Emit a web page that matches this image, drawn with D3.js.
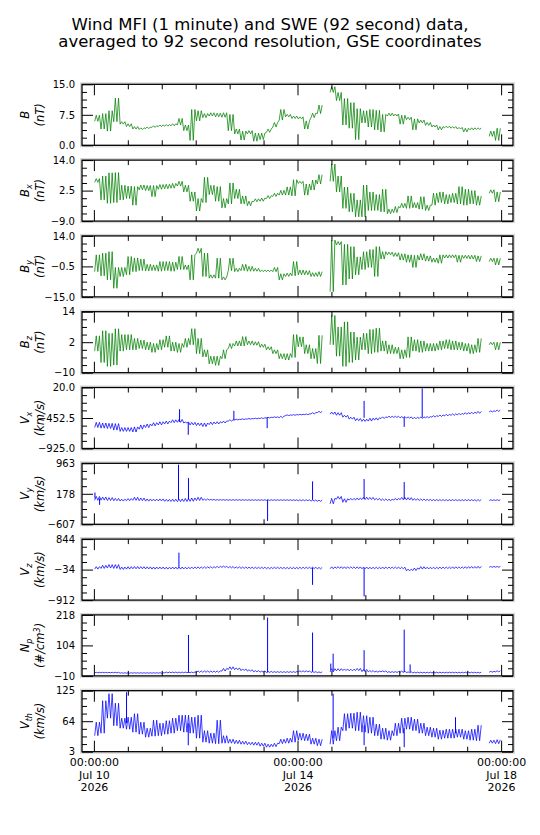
<!DOCTYPE html>
<html>
<head>
<meta charset="utf-8">
<script src="https://cdn.jsdelivr.net/npm/d3@7"></script>
<style>
  body { margin: 0; background: #fff; }
  text { font-family: "DejaVu Sans", sans-serif; }
</style>
</head>
<body>
<svg id="chart" width="540" height="835"></svg>
<script>
// 3-hour bins from Jul 10 00:00 UTC; each entry is [low, high], null = data gap
const binHours = d3.range(0, 192, 3);

const bMag = [[5.9,7.4],[4.0,7.8],[3.5,8.5],[5.8,11.6],[5.2,5.8],[4.6,5.3],[4.0,4.6],[3.9,4.3],[4.1,4.5],[4.4,4.8],[4.6,5.0],[4.7,5.1],[4.8,5.3],[5.0,6.6],[3.6,5.0],[1.2,8.8],[6.0,8.5],[6.8,7.8],[7.2,8.0],[7.0,7.9],[6.9,8.0],[3.6,7.6],[2.8,4.0],[1.3,3.5],[2.8,3.6],[1.0,3.0],[1.4,3.0],[3.2,4.0],[4.5,5.6],[6.2,8.8],[7.0,7.6],[6.6,7.2],[6.5,7.0],[4.0,6.0],[6.8,7.9],[7.8,9.9],null,[13.0,14.4],[11.0,13.0],[5.0,11.5],[4.2,10.5],[1.4,9.0],[5.5,8.5],[4.5,8.8],[3.8,8.6],[3.3,7.6],[7.2,7.9],[7.2,7.7],[5.2,7.4],[6.3,6.9],[3.8,6.5],[5.5,6.2],[4.9,5.6],[4.5,5.0],[3.8,4.6],[4.3,4.7],[4.2,4.6],[4.0,4.4],[3.3,4.2],[3.8,4.3],[3.9,4.3],null,[2.2,3.5],[1.2,4.2]];

const bx = [[5.6,7.0],[-1.0,8.0],[-2.3,9.2],[-2.0,9.3],[-1.0,4.5],[-0.5,4.2],[-3.0,4.0],[2.8,4.6],[2.5,4.4],[0.2,4.4],[3.0,4.8],[3.2,4.9],[3.4,5.2],[4.2,6.0],[2.0,4.5],[-1.5,2.0],[-5.2,-0.5],[-2.0,7.5],[1.0,4.5],[-1.5,4.0],[-4.0,-0.5],[-2.5,5.4],[-0.5,3.0],[-2.5,0.5],[-3.2,-1.5],[-1.7,-0.6],[-1.5,-0.3],[-0.5,0.6],[0.3,1.5],[0.8,2.6],[0.8,3.9],[0.5,6.6],[5.2,6.0],[0.8,5.0],[2.7,6.5],[5.0,8.5],null,[6.0,12.5],[2.0,8.0],[-4.2,3.8],[-5.5,1.5],[-7.4,-1.0],[-7.4,4.6],[-5.0,2.0],[-5.0,1.0],[-5.5,3.0],[-6.2,-4.5],[-5.8,-3.5],[-4.0,-2.3],[-4.2,0.5],[-4.0,-2.0],[-4.5,0.2],[-5.0,-3.0],[-3.0,1.5],[-2.0,2.0],[-2.5,1.0],[-2.0,1.5],[-2.5,4.0],[-3.0,3.0],[-2.5,2.5],[-3.0,0.5],null,[1.5,2.8],[-1.7,2.0]];

const by = [[-3.0,5.0],[-5.0,5.8],[-6.9,6.5],[-10.9,-1.0],[-5.3,-1.0],[-4.5,4.2],[-3.0,3.5],[-2.5,3.0],[-2.7,0.5],[-2.5,0.2],[-2.8,1.8],[-2.5,1.8],[-2.8,1.5],[-2.0,4.2],[-2.0,0.2],[-6.9,5.0],[5.8,8.1],[-5.3,5.8],[-6.1,-4.5],[-6.1,3.4],[-6.9,-5.5],[-2.5,3.4],[-3.0,-1.4],[-2.5,0.5],[-2.8,-0.5],[-2.8,-1.4],[-3.0,-2.2],[-3.0,-2.2],[-3.0,-1.0],[-6.9,-4.0],[-5.3,-3.7],[-5.0,1.8],[-4.5,-2.2],[-4.5,-2.5],[-5.3,-3.5],[-5.3,-3.0],null,[-12.5,12.0],[9.7,11.3],[-9.3,10.0],[-6.5,8.9],[-4.5,4.0],[-2.0,6.5],[-1.0,7.5],[-5.3,8.9],[3.0,6.5],[5.0,6.3],[4.2,6.0],[2.5,5.5],[1.5,5.0],[-1.0,4.8],[2.5,5.5],[2.0,4.5],[1.5,3.5],[1.0,5.0],[3.5,5.0],[3.6,5.0],[1.5,4.8],[3.3,4.8],[3.0,4.8],[1.8,4.5],null,[1.8,3.4],[0.2,3.4]];

const bz = [[-1.5,4.5],[-6.0,6.5],[-7.5,5.5],[-7.0,7.3],[-1.5,5.0],[-1.0,5.0],[-1.0,3.5],[-0.5,2.8],[-1.0,2.0],[-2.0,1.5],[-1.0,3.0],[0.0,4.5],[-1.5,2.0],[-2.0,1.5],[0.0,3.5],[1.0,7.3],[-2.5,3.5],[-3.8,-1.0],[-6.5,-3.5],[-7.1,-3.5],[-4.5,-1.0],[-0.5,1.5],[0.5,2.5],[0.5,4.2],[1.0,2.5],[0.8,2.2],[0.0,1.2],[-1.0,0.2],[-2.5,-1.0],[-4.5,-2.5],[-5.0,-2.5],[-4.0,5.0],[0.2,4.1],[-2.5,1.0],[-4.5,-0.5],[-6.4,4.7],null,[1.0,12.5],[-3.5,8.0],[-7.5,10.0],[-6.0,6.0],[-5.0,4.0],[-1.0,5.5],[-2.5,7.0],[-2.0,7.5],[-1.5,2.5],[-2.5,1.0],[-2.5,0.0],[-4.5,-1.0],[-4.0,4.1],[-1.5,3.0],[-2.0,2.5],[-1.5,1.5],[-1.5,1.5],[-1.0,2.5],[-0.5,3.0],[-1.0,2.5],[-1.0,2.0],[-1.5,1.5],[-2.5,1.0],[-2.0,3.5],null,[1.0,2.0],[-1.0,2.0]];

const vx = [[-600,-520],[-610,-530],[-615,-535],[-640,-540],[-660,-600],[-660,-600],[-670,-590],[-626,-560],[-600,-545],[-575,-525],[-560,-510],[-545,-500],[-525,-480],[-520,-475],[-530,-515],[-560,-520],[-570,-530],[-585,-530],[-555,-515],[-545,-510],[-530,-500],[-500,-480],[-482,-472],[-476,-466],[-470,-460],[-465,-455],[-460,-450],[-452,-442],[-445,-435],[-448,-425],[-415,-405],[-410,-400],[-405,-395],[-400,-390],[-390,-370],[-368,-350],null,[-395,-360],[-410,-370],[-440,-410],[-470,-440],[-495,-460],[-505,-470],[-500,-455],[-485,-450],[-460,-435],[-445,-425],[-445,-425],[-450,-430],[-455,-435],[-465,-440],[-460,-435],[-450,-430],[-440,-415],[-430,-405],[-420,-395],[-412,-388],[-405,-380],[-395,-370],[-388,-362],[-380,-350],null,[-358,-342],[-350,-330]];

const vy = [[10,110],[15,95],[5,80],[0,60],[-10,40],[0,55],[10,90],[0,70],[-10,45],[-5,40],[-5,45],[-15,35],[-20,40],[-25,45],[-20,60],[-15,70],[5,90],[10,45],[15,35],[12,30],[12,28],[10,28],[10,28],[10,26],[10,26],[8,26],[8,25],[8,25],[8,25],[8,25],[8,25],[5,24],[0,25],[0,25],[-10,20],[-15,15],null,[-80,60],[40,110],[-40,50],[15,60],[20,70],[30,90],[30,85],[20,60],[5,45],[5,35],[15,60],[25,85],[20,80],[10,55],[5,45],[5,35],[0,30],[0,30],[0,28],[0,30],[0,28],[0,30],[0,28],[-5,30],null,[5,25],[5,25]];

const vz = [[-20,50],[0,90],[10,110],[0,110],[-30,40],[-20,50],[-10,55],[-10,50],[-15,45],[-20,40],[-15,40],[-20,35],[-15,40],[-20,40],[-15,35],[-10,40],[-5,45],[0,45],[10,50],[20,60],[30,65],[15,55],[5,45],[0,40],[0,35],[-5,35],[-5,35],[-10,30],[-5,35],[-5,30],[-10,30],[-10,30],[-10,35],[-5,35],[-5,35],[-15,30],null,[-10,45],[0,50],[-5,45],[0,45],[-5,45],[-10,40],[-15,35],[-10,35],[-10,40],[-5,40],[-5,40],[-10,35],[-70,-20],[-60,10],[-20,50],[-15,35],[-10,35],[-10,40],[-5,40],[-5,45],[0,45],[0,50],[5,55],[5,60],null,[35,55],[35,55]];

const np = [[1.5,3.5],[1.5,3.5],[1.5,3.5],[1.5,3.5],[0,2],[0,2],[0,2],[0,2],[0,2],[0,2],[0,2],[1.5,4.5],[1.5,4.5],[1.5,4.5],[1.5,4.5],[1.5,4.5],[3.5,8.5],[3.5,8.5],[3.5,8.5],[3.5,8.5],[8,18],[14,24],[13,20],[10,16],[8,13],[5,10],[4,8],[3,7],[3,6],[3,6],[3,6],[3,6],[5,9],[5,9],[3,6],[2,5],null,[5,17],[9,17],[10,16],[9,15],[10,18],[6,14],[5,10],[4,8],[5,9],[3,6],[3,6],[3,8],[2,5],[1,4],[1,4],[1,4],[1,4],[1,4],[1,4],[1,4],[1,4],[1,4],[1,4],[1,4],null,[4,7],[5,9]];

const vth = [[35,62],[40,105],[70,119],[55,100],[50,70],[48,72],[42,79],[38,62],[32,50],[34,66],[35,60],[38,65],[40,70],[45,76],[42,76],[40,72],[30,76],[22,45],[20,40],[19,66],[20,35],[20,28],[19,26],[18,24],[17,22],[16,22],[14,20],[12,18],[13,20],[19,28],[20,30],[22,45],[26,40],[25,38],[18,30],[15,28],null,[18,45],[25,52],[45,79],[50,80],[45,82],[42,75],[40,72],[35,58],[28,50],[26,45],[35,60],[40,70],[48,72],[45,68],[40,60],[35,52],[32,50],[28,46],[30,48],[30,48],[32,48],[28,45],[26,48],[25,56],null,[20,26],[19,27]];

// isolated single-sample spikes: [hour, base, peak]
const vxSpikes = [[40.4,-512,-316],[44.5,-522,-713],[66.0,-486,-342],[81.7,-445,-610],[127.4,-450,-187],[146.3,-440,-590],[154.8,-445,5]];
const vySpikes = [[0.5,60,212],[2.7,60,-107],[39.9,30,928],[44.6,30,583],[81.9,25,-521],[103.1,20,497],[127.4,40,557],[146.3,40,480]];
const vzSpikes = [[40.1,30,453],[103.1,20,-473],[127.4,20,-807]];
const npSpikes = [[44.6,2,143],[81.9,3,208],[103.1,6,152],[111.7,10,36],[112.8,10,73],[127.4,8,86],[146.3,4,163],[149.1,4,33]];
const vthSpikes = [[15.4,60,122],[44.5,60,16],[112.8,30,119],[127.4,55,16],[146.3,50,12],[170.5,40,72]];

// y ranges and their tick labels (bottom, middle, top)
const yDomains = [[0,15],[-9,14],[-15,14],[-10,14],[-925,20],[-607,963],[-912,844],[-10,218],[3,125]];
const yTickLabels = [
  ["0.0","7.5","15.0"], ["\u22129.0","2.5","14.0"], ["\u221215.0","\u22120.5","14.0"], ["\u221210","2","14"],
  ["\u2212925.0","\u2212452.5","20.0"], ["\u2212607","178","963"], ["\u2212912","\u221234","844"],
  ["\u221210","104","218"], ["3","64","125"]
];
const xTickLabels = [["00:00:00","Jul 10","2026"],["00:00:00","Jul 14","2026"],["00:00:00","Jul 18","2026"]];

const green = "#008000", blue = "#0000ff";
const km = [["(km/s)"]];
const panels = [
  { data: bMag, spikes: [], color: green, l1: [["B"]], l2: [["(nT)"]] },
  { data: bx, spikes: [], color: green, l1: [["B"],["x","sub"]], l2: [["(nT)"]] },
  { data: by, spikes: [], color: green, l1: [["B"],["y","sub"]], l2: [["(nT)"]] },
  { data: bz, spikes: [], color: green, l1: [["B"],["z","sub"]], l2: [["(nT)"]] },
  { data: vx, spikes: vxSpikes, color: blue, l1: [["V"],["x","sub"]], l2: km },
  { data: vy, spikes: vySpikes, color: blue, l1: [["V"],["y","sub"]], l2: km },
  { data: vz, spikes: vzSpikes, color: blue, l1: [["V"],["z","sub"]], l2: km },
  { data: np, spikes: npSpikes, color: blue, l1: [["N"],["p","sub"]], l2: [["(#/cm"],["3","sup"],[")"]] },
  { data: vth, spikes: vthSpikes, color: blue, l1: [["V"],["th","sub"]], l2: km }
];
panels.forEach((p, i) => {
  if (p.data.length !== binHours.length) throw new Error("panel " + i + " has " + p.data.length + " bins");
});

const svg = d3.select("#chart");
const t0 = Date.UTC(2026, 6, 10);
const HOUR = 3600e3;
const at = h => new Date(t0 + h * HOUR);

const left = 82, right = 513;
const top0 = 84.3, step = 75.8, panelH = 61;

const x = d3.scaleUtc()
  .domain([at(-5.6), at(197.6)])
  .range([left, right]);

const xMinor = d3.range(0, 193, 16).filter(h => h % 96).map(at);
const xMajor = [0, 96, 192].map(at);

// title
svg.append("text")
  .attr("x", 270).attr("y", 29.5)
  .attr("text-anchor", "middle")
  .style("font-size", "16.5px")
  .text("Wind MFI (1 minute) and SWE (92 second) data,");
svg.append("text")
  .attr("x", 270).attr("y", 47)
  .attr("text-anchor", "middle")
  .style("font-size", "16.5px")
  .text("averaged to 92 second resolution, GSE coordinates");

function styleAxis(g) {
  g.select(".domain").remove();
  g.selectAll(".tick line").attr("stroke", "#000").attr("stroke-width", 1);
  g.selectAll(".tick text").attr("fill", "#000");
  g.attr("font-family", null).attr("font-size", null);
}

function addLabel(parts, cx, cy) {
  const t = svg.append("text")
    .attr("transform", `translate(${cx},${cy}) rotate(-90)`)
    .attr("text-anchor", "middle")
    .style("font-size", "11.5px")
    .style("font-style", "italic");
  let shift = 0;
  parts.forEach(([s, kind], k) => {
    const want = kind === "sub" ? 2.8 : kind === "sup" ? -4.5 : 0;
    const base = k === 0 ? 4.1 : 0;
    const ts = t.append("tspan").attr("dy", base + want - shift).text(s);
    if (kind) ts.style("font-size", "8px");
    shift = want;
  });
}

panels.forEach((p, i) => {
  const top = top0 + i * step, bottom = top + panelH;
  const [lo, hi] = yDomains[i];
  const y = d3.scaleLinear().domain([lo, hi]).range([bottom, top]);

  svg.append("clipPath").attr("id", "clip" + i)
    .append("rect")
    .attr("x", left).attr("y", top)
    .attr("width", right - left).attr("height", panelH);

  // light outline around the axes box
  svg.append("rect")
    .attr("x", left - 1.5).attr("y", top - 1.5)
    .attr("width", right - left + 3).attr("height", panelH + 3)
    .attr("fill", "none").attr("stroke", "#d6d6d6").attr("stroke-width", 1);

  const plot = svg.append("g").attr("clip-path", `url(#clip${i})`);

  // each bin's low/high envelope is traced as a tight zigzag, four strokes per bin
  const pts = [];
  p.data.forEach((d, k) => {
    if (!d) { pts.push(null); return; }
    [0, 1, 2, 3].forEach(j => {
      pts.push({ h: binHours[k] + 0.375 + 0.75 * j, v: d[j % 2] });
    });
  });

  const line = d3.line()
    .defined(d => d)
    .x(d => x(at(d.h)))
    .y(d => y(d.v));

  plot.append("path")
    .attr("d", line(pts))
    .attr("fill", "none")
    .attr("stroke", p.color)
    .attr("stroke-width", 0.75)
    .attr("stroke-linejoin", "round");

  plot.selectAll(".spike")
    .data(p.spikes)
    .enter().append("line")
    .attr("x1", d => x(at(d[0]))).attr("x2", d => x(at(d[0])))
    .attr("y1", d => y(d[1])).attr("y2", d => y(d[2]))
    .attr("stroke", p.color)
    .attr("stroke-width", 1);

  // y ticks: labelled long ticks at bottom / middle / top, short ones every eighth
  const yMajor = [lo, (lo + hi) / 2, hi];
  const yMinor = d3.range(1, 8).filter(k => k % 4).map(k => lo + k * (hi - lo) / 8);

  svg.append("g").attr("transform", `translate(${left},0)`)
    .call(d3.axisLeft(y).tickValues(yMajor).tickSizeInner(-11).tickSizeOuter(0).tickPadding(7)
      .tickFormat((d, k) => yTickLabels[i][k]))
    .call(styleAxis)
    .selectAll("text").style("font-size", "10px");
  svg.append("g").attr("transform", `translate(${left},0)`)
    .call(d3.axisLeft(y).tickValues(yMinor).tickSizeInner(-5).tickSizeOuter(0).tickFormat(""))
    .call(styleAxis);
  svg.append("g").attr("transform", `translate(${right},0)`)
    .call(d3.axisRight(y).tickValues(yMajor).tickSizeInner(-11).tickSizeOuter(0).tickFormat(""))
    .call(styleAxis);
  svg.append("g").attr("transform", `translate(${right},0)`)
    .call(d3.axisRight(y).tickValues(yMinor).tickSizeInner(-5).tickSizeOuter(0).tickFormat(""))
    .call(styleAxis);

  // x ticks on top and bottom edges
  svg.append("g").attr("transform", `translate(0,${top})`)
    .call(d3.axisTop(x).tickValues(xMajor).tickSizeInner(-11).tickSizeOuter(0).tickFormat(""))
    .call(styleAxis);
  svg.append("g").attr("transform", `translate(0,${top})`)
    .call(d3.axisTop(x).tickValues(xMinor).tickSizeInner(-5).tickSizeOuter(0).tickFormat(""))
    .call(styleAxis);
  svg.append("g").attr("transform", `translate(0,${bottom})`)
    .call(d3.axisBottom(x).tickValues(xMinor).tickSizeInner(-5).tickSizeOuter(0).tickFormat(""))
    .call(styleAxis);
  const xb = svg.append("g").attr("transform", `translate(0,${bottom})`)
    .call(d3.axisBottom(x).tickValues(xMajor).tickSizeInner(-11).tickSizeOuter(0).tickPadding(6).tickFormat(""))
    .call(styleAxis);

  if (i === panels.length - 1) {
    xb.selectAll(".tick text").each(function (d, k) {
      const t = d3.select(this).text(null).attr("dy", null).style("font-size", "11px");
      xTickLabels[k].forEach((s, j) => {
        t.append("tspan").attr("x", 0).attr("dy", j ? "1.1em" : "0.8em").text(s);
      });
    });
  }

  svg.append("rect")
    .attr("x", left).attr("y", top)
    .attr("width", right - left).attr("height", panelH)
    .attr("fill", "none").attr("stroke", "#000").attr("stroke-width", 1.3);

  const cy = (top + bottom) / 2;
  addLabel(p.l1, 25, cy);
  addLabel(p.l2, 40, cy);
});
</script>
</body>
</html>
